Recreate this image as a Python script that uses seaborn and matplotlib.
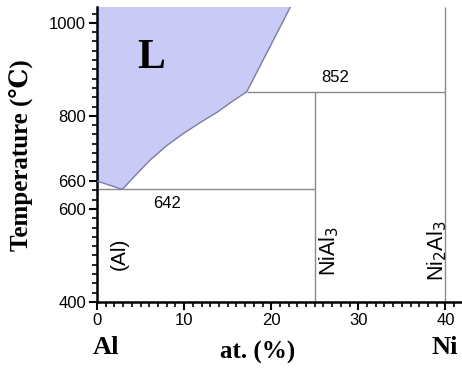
import matplotlib
matplotlib.use("Agg")
import matplotlib.pyplot as plt
import seaborn as sns
import pandas as pd
import numpy as np
from matplotlib.ticker import MultipleLocator, FixedLocator

sns.set_style("white")
plt.rcParams['font.family'] = ['Liberation Sans', 'DejaVu Sans']
plt.rcParams['text.color'] = 'black'
plt.rcParams['xtick.color'] = 'black'
plt.rcParams['ytick.color'] = 'black'

# Liquidus curve (at.% Ni, temperature °C)
liquidus_x = [0.0, 2.9, 4.5, 6.1, 8.0, 9.9, 11.8, 13.8, 15.6, 17.2, 22.2]
liquidus_T = [660, 642, 674, 705, 736, 762, 785, 808, 832, 852, 1034]

# Invariant horizontal lines: (temperature, x start, x end)
iso_T = [642, 852]
iso_x0 = [0.0, 17.2]
iso_x1 = [25.0, 40.0]
iso_labels = ["642", "852"]
iso_label_x = [8.1, 27.4]
iso_label_T = [612, 882]

# Compound vertical lines
comp_x = [25.0, 40.0]
comp_Ttop = [852, 1034]
comp_labels = ["NiAl$_3$", "Ni$_2$Al$_3$"]
comp_label_x = [26.7, 39.0]

xticks = [0, 10, 20, 30, 40]
yticks = [400, 600, 660, 800, 1000]

df = pd.DataFrame({"x": liquidus_x, "T": liquidus_T})

fig = plt.figure(figsize=(4.62, 3.68), dpi=100)
ax = fig.add_axes([97/462, 1-302/368, 1-97/462, (302-7)/368])

# liquid region
ax.fill(list(df["x"]) + [0.0], list(df["T"]) + [1034], color="#cacaf7", lw=0, zorder=1)
sns.lineplot(data=df, x="x", y="T", sort=False, ax=ax, color="#7a7aa8", lw=1.0, zorder=3)

ax.hlines(iso_T, iso_x0, iso_x1, color="#8a8a8a", lw=1.0, zorder=2)
ax.vlines(comp_x, 400, comp_Ttop, color="#8a8a8a", lw=1.0, zorder=2)

for t, lx, lt in zip(iso_labels, iso_label_x, iso_label_T):
    ax.text(lx, lt, t, ha="center", va="center", fontsize=12, color="black")
for t, lx in zip(comp_labels, comp_label_x):
    ax.text(lx, 510, t, ha="center", va="center", rotation=90, fontsize=15.5, color="black")
ax.text(2.6, 503, "(Al)", ha="center", va="center", rotation=90, fontsize=15, color="black")

serif = ['Liberation Serif', 'DejaVu Serif']
ax.text(6.2, 924, "L", ha="center", va="center", fontsize=30, fontweight="bold",
        family=serif, color="black")

ax.set_xlim(0, 41.9)
ax.set_ylim(400, 1034)
ax.xaxis.set_major_locator(FixedLocator(xticks))
ax.xaxis.set_minor_locator(MultipleLocator(1))
ax.yaxis.set_major_locator(FixedLocator(yticks))
ax.yaxis.set_minor_locator(MultipleLocator(20))
ax.tick_params(axis="both", which="major", direction="out", length=6, width=1.5,
               labelsize=12, color="black", labelcolor="black", left=True, bottom=True, pad=2)
ax.tick_params(axis="both", which="minor", direction="out", length=3.5, width=1.2,
               color="black", left=True, bottom=True)
for s in ["top", "right"]:
    ax.spines[s].set_visible(False)
for s in ["left", "bottom"]:
    ax.spines[s].set_color("black")
    ax.spines[s].set_linewidth(1.8)

ax.set_xlabel("")
ax.set_ylabel("")
fig.text(22/462, 1-155/368, "Temperature (℃)", rotation=90, ha="center", va="center",
         fontsize=18, fontweight="bold", family=serif, color="black")
fig.text(258/462, 1-352/368, "at. (%)", ha="center", va="center",
         fontsize=18, fontweight="bold", family=serif, color="black")
fig.text(106/462, 1-347/368, "Al", ha="center", va="center",
         fontsize=19, fontweight="bold", family=serif, color="black")
fig.text(445/462, 1-347/368, "Ni", ha="center", va="center",
         fontsize=19, fontweight="bold", family=serif, color="black")

fig.savefig("out.png", dpi=100)
